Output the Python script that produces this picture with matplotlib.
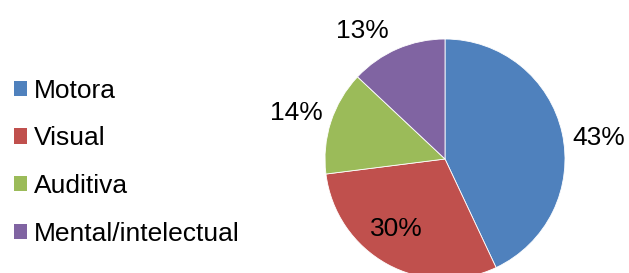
"""Pie chart: distribution of disability types."""
import matplotlib
matplotlib.use("Agg")
import matplotlib.pyplot as plt
import numpy as np
from matplotlib.patches import Patch

plt.rcParams["font.family"] = ["Liberation Sans", "DejaVu Sans"]

categories = ["Motora", "Visual", "Auditiva", "Mental/intelectual"]
shares = [43, 30, 14, 13]
colors = ["#4F81BD", "#C0504D", "#9BBB59", "#8064A2"]

W, H = 629, 273
FS = 19
fig = plt.figure(figsize=(W / 100, H / 100), dpi=100)
# pie centred at (445, 159) px, radius 120 px (bottom is clipped by the figure)
cx, cy, r = 445, 159, 120
ax = fig.add_axes([(cx - r) / W, (H - cy - r) / H, 2 * r / W, 2 * r / H])
wedges, _ = ax.pie(shares, colors=colors, startangle=90, counterclock=False,
                   radius=1.0, wedgeprops=dict(edgecolor="white", linewidth=0.6))
ax.set_xlim(-1, 1); ax.set_ylim(-1, 1)
ax.set_aspect("equal")
ax.axis("off")

# data label placement (Excel best-fit style): distance and angle nudge
dists = [1.3, 0.69, 1.3, 1.29]
nudge = [-4, -7, 0, 9]
for w, v, d, n in zip(wedges, shares, dists, nudge):
    ang = np.deg2rad(0.5 * (w.theta1 + w.theta2) + n)
    x, y = d * np.cos(ang), d * np.sin(ang) - 0.02
    ax.text(x, y, f"{v}%", ha="center", va="center",
            fontsize=FS, color="black", clip_on=False)

handles = [Patch(facecolor=c, edgecolor="none") for c in colors]
fig.legend(handles, categories, loc="upper left", bbox_to_anchor=(3 / W, 1 - 68 / H),
           frameon=False, fontsize=FS, handlelength=0.52, handleheight=0.52,
           handletextpad=0.25, labelspacing=0.9, borderaxespad=0)

fig.savefig("out.png", dpi=100)
